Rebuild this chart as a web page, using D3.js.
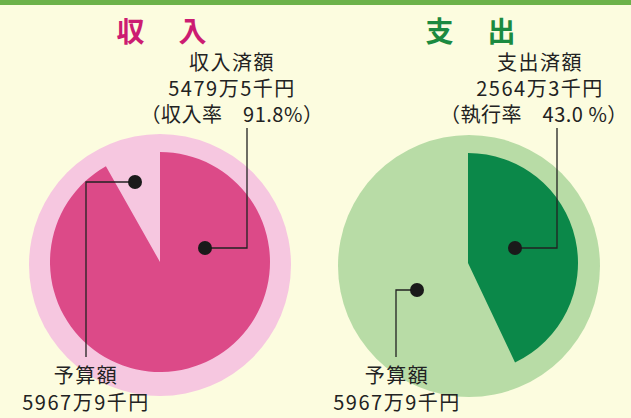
<!DOCTYPE html>
<html>
<head>
<meta charset="utf-8">
<script src="https://cdn.jsdelivr.net/npm/d3@7"></script>
<style>
  body { margin: 0; background: #fcfcdf; }
  svg { display: block; font-family: "Noto Sans CJK JP", "Noto Sans", sans-serif; text-spacing-trim: space-all; }
</style>
</head>
<body>
<div id="chart"></div>
<script>
// data (万円)
const groups = ["収入", "支出"];
const titles = ["収　入", "支　出"];
const budget = [5967.9, 5967.9];
const actual = [5479.5, 2564.3];
const rates = [91.8, 43.0];
const doneLabels = ["収入済額", "支出済額"];
const amountLabels = ["5479万5千円", "2564万3千円"];
const rateLabels = ["（収入率　91.8%）", "（執行率　43.0 %）"];
const budgetLabel = ["予算額", "5967万9千円"];

const width = 631, height = 418;

const svg = d3.select("#chart")
  .append("svg")
  .attr("width", width)
  .attr("height", height);

svg.append("rect")
  .attr("width", width).attr("height", height)
  .attr("fill", "#fcfcdf");

// top green band
svg.append("rect")
  .attr("width", width).attr("height", 5)
  .attr("fill", "#6cb24a");

const palette = [
  { title: "#cc1c72", light: "#f6c7e0", dark: "#dc4a88" },
  { title: "#1b8a40", light: "#b8dca6", dark: "#0b8849" }
];

// layout for each panel
const layout = [
  { cx: 160, cy: 262, ocx: 160, ocy: 265, titleX: 163, textX: 232, rateDx: 0,
    dot1: [45, -14], bend1: 247, dot2: [-25, -80], bend2: 86, labelX: 86 },
  { cx: 468, cy: 263, ocx: 469, ocy: 266, titleX: 472, textX: 540, rateDx: -6,
    dot1: [47, -15], bend1: 557, dot2: [-51, 27], bend2: 396, labelX: 397 }
];

const rOuter = 131, rInner = 110;

groups.forEach((g, i) => {
  const L = layout[i], c = palette[i];

  const angle = d3.scaleLinear()
    .domain([0, budget[i]])
    .range([0, 2 * Math.PI]);

  // budget circle
  svg.append("circle")
    .attr("cx", L.ocx).attr("cy", L.ocy)
    .attr("r", rOuter)
    .attr("fill", c.light);

  // actual sector
  const arc = d3.arc().innerRadius(0).outerRadius(rInner);
  svg.append("path")
    .attr("transform", `translate(${L.cx},${L.cy})`)
    .attr("d", arc({ startAngle: 0, endAngle: angle(actual[i]) }))
    .attr("fill", c.dark);

  // title
  svg.append("text")
    .attr("x", L.titleX).attr("y", 42)
    .attr("text-anchor", "middle")
    .attr("fill", c.title)
    .style("font-size", "28px")
    .style("font-weight", "bold")
    .style("letter-spacing", "3px")
    .text(titles[i]);

  // actual label (one text block, three lines)
  const top = svg.append("text")
    .attr("x", L.textX).attr("y", 70)
    .attr("text-anchor", "middle")
    .attr("fill", "#222")
    .style("font-size", "20px");
  [doneLabels[i], amountLabels[i], rateLabels[i]].forEach((t, k) => {
    top.append("tspan")
      .attr("x", k === 2 ? L.textX + L.rateDx : L.textX)
      .attr("dy", k === 0 ? 0 : 26)
      .style("letter-spacing", k === 2 ? "0.5px" : "1.5px")
      .text(t);
  });

  // leader for actual
  const d1 = [L.cx + L.dot1[0], L.cy + L.dot1[1]];
  svg.append("path")
    .attr("d", `M${d1[0]},${d1[1]}H${L.bend1}V128`)
    .attr("fill", "none")
    .attr("stroke", "#222")
    .attr("stroke-width", 1.3);
  svg.append("circle")
    .attr("cx", d1[0]).attr("cy", d1[1]).attr("r", 7)
    .attr("fill", "#1a1a1a");

  // leader for budget
  const d2 = [L.cx + L.dot2[0], L.cy + L.dot2[1]];
  svg.append("path")
    .attr("d", `M${d2[0]},${d2[1]}H${L.bend2}V357`)
    .attr("fill", "none")
    .attr("stroke", "#222")
    .attr("stroke-width", 1.3);
  svg.append("circle")
    .attr("cx", d2[0]).attr("cy", d2[1]).attr("r", 7)
    .attr("fill", "#1a1a1a");

  const bottom = svg.append("text")
    .attr("x", L.labelX).attr("y", 383)
    .attr("text-anchor", "middle")
    .attr("fill", "#222")
    .style("font-size", "20px")
    .style("letter-spacing", "1.5px");
  budgetLabel.forEach((t, k) => {
    bottom.append("tspan")
      .attr("x", L.labelX)
      .attr("dy", k === 0 ? 0 : 27)
      .text(t);
  });
});
</script>
</body>
</html>
